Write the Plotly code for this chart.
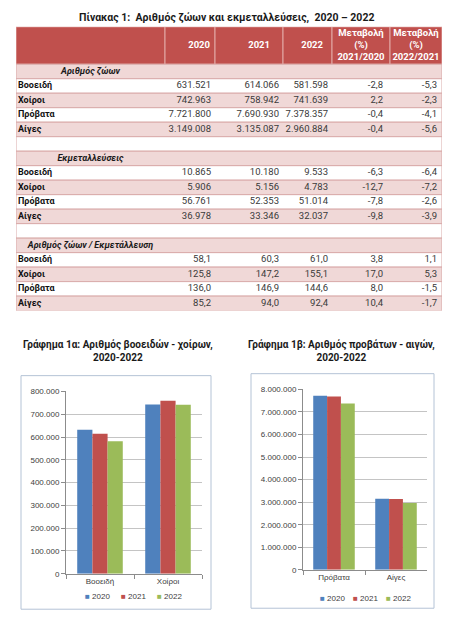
import plotly.graph_objects as go

# ---------------- data ----------------
animals = ["Βοοειδή", "Χοίροι", "Πρόβατα", "Αίγες"]
years = ["2020", "2021", "2022"]
sections = ["Αριθμός ζώων", "Εκμεταλλεύσεις", "Αριθμός ζώων / Εκμετάλλευση"]
change_headers = ["Μεταβολή<br>(%)<br>2021/2020", "Μεταβολή<br>(%)<br>2022/2021"]

heads_2020 = [631521, 742963, 7721800, 3149008]
heads_2021 = [614066, 758942, 7690930, 3135087]
heads_2022 = [581598, 741639, 7378357, 2960884]
heads_chg_21_20 = [-2.8, 2.2, -0.4, -0.4]
heads_chg_22_21 = [-5.3, -2.3, -4.1, -5.6]

farms_2020 = [10865, 5906, 56761, 36978]
farms_2021 = [10180, 5156, 52353, 33346]
farms_2022 = [9533, 4783, 51014, 32037]
farms_chg_21_20 = [-6.3, -12.7, -7.8, -9.8]
farms_chg_22_21 = [-6.4, -7.2, -2.6, -3.9]

perfarm_2020 = [58.1, 125.8, 136.0, 85.2]
perfarm_2021 = [60.3, 147.2, 146.9, 94.0]
perfarm_2022 = [61.0, 155.1, 144.6, 92.4]
perfarm_chg_21_20 = [3.8, 17.0, 8.0, 10.4]
perfarm_chg_22_21 = [1.1, 5.3, -1.5, -1.7]

table_title = "Πίνακας 1:  Αριθμός ζώων και εκμεταλλεύσεις,  2020 – 2022"
chart1_title = "Γράφημα 1α: Αριθμός βοοειδών - χοίρων,<br>2020-2022"
chart2_title = "Γράφημα 1β: Αριθμός προβάτων - αιγών,<br>2020-2022"
chart1_cats = animals[:2]
chart2_cats = animals[2:]

# ---------------- styles ----------------
PAGE_W, PAGE_H = 452, 637
OFF = 8  # default body margin of the html page
W, H = PAGE_W - 2 * OFF, PAGE_H - 2 * OFF
FONT_T = "Roboto, 'Open Sans', sans-serif"
FONT_C = "'Liberation Sans', Arial, sans-serif"
RED_H = "#C0504D"
PINK = "#F0D8D7"
ROW_LINE = "#D9AAA9"
BAR_COLORS = ["#4F81BD", "#C0504D", "#9BBB59"]


def px_x(px):
    return (px - OFF) / W


def px_y(px):
    return 1 - (px - OFF) / H


def fmt_int(v):
    return f"{v:,}".replace(",", ".")


def fmt_dec(v):
    return f"{v:.1f}".replace(".", ",")


# ---------------- table rows ----------------
blocks = [
    (sections[0], [heads_2020, heads_2021, heads_2022], [heads_chg_21_20, heads_chg_22_21], fmt_int),
    (sections[1], [farms_2020, farms_2021, farms_2022], [farms_chg_21_20, farms_chg_22_21], fmt_int),
    (sections[2], [perfarm_2020, perfarm_2021, perfarm_2022], [perfarm_chg_21_20, perfarm_chg_22_21], fmt_dec),
]
rows = []
for bi, (title, yr_vals, chg_vals, f) in enumerate(blocks):
    rows.append(("section", title, None, 0))
    for i, a in enumerate(animals):
        cells = [f(v[i]) for v in yr_vals] + [fmt_dec(c[i]) for c in chg_vals]
        rows.append(("data", a, cells, i))
    if bi < len(blocks) - 1:
        rows.append(("blank", "", None, 0))

# table geometry (table units = px inside the table box)
T_LEFT, T_RIGHT, T_TOP, T_BOTTOM = 16, 442, 23, 311
TW = T_RIGHT - T_LEFT
HEADER_H = 38
ROW_H = (T_BOTTOM - T_TOP - HEADER_H) / len(rows)
col_edges = [0, 149, 199, 267, 316, 374, 426]
value_right = [195, 263, 312, 367, 421]
header_year_right = [194, 254, 307]
label_left = 2

fig = go.Figure()

# cell backgrounds as horizontal bars
bx, bbase, by, bw, bc, blc = [], [], [], [], [], []
for c in range(6):
    bbase.append(col_edges[c])
    bx.append(col_edges[c + 1] - col_edges[c])
    by.append(HEADER_H / 2)
    bw.append(HEADER_H)
    bc.append(RED_H)
    blc.append("#E2A9A7")
for k, (kind, label, cells, i) in enumerate(rows):
    bbase.append(0)
    bx.append(TW)
    by.append(HEADER_H + (k + 0.5) * ROW_H)
    bw.append(ROW_H)
    if kind == "section" or (kind == "data" and i % 2 == 1):
        bc.append(PINK)
    else:
        bc.append("#FFFFFF")
    blc.append(ROW_LINE)
fig.add_trace(go.Bar(
    x=bx, base=bbase, y=by, width=bw, orientation="h",
    marker=dict(color=bc, line=dict(color=blc, width=1)),
    xaxis="x3", yaxis="y3", showlegend=False, hoverinfo="skip"))

# header texts
hx, hy, ht, hp = [], [], [], []
for c, yr in enumerate(years):
    hx.append(header_year_right[c])
    hy.append(HEADER_H / 2)
    ht.append("<b>" + yr + "</b>")
    hp.append("middle left")
for c, txt in enumerate(change_headers):
    hx.append((col_edges[c + 4] + col_edges[c + 5]) / 2)
    hy.append(HEADER_H / 2)
    ht.append("<b>" + txt + "</b>")
    hp.append("middle center")
fig.add_trace(go.Scatter(
    x=hx, y=hy, text=ht, mode="text", textposition=hp,
    textfont=dict(family=FONT_T, size=9.5, color="#FFFFFF"),
    xaxis="x3", yaxis="y3", showlegend=False, hoverinfo="skip", cliponaxis=False))

# body texts
sx, sy, st = [], [], []
lx, ly, lt = [], [], []
vals_cols = [[] for _ in range(5)]
vy = []
for k, (kind, label, cells, i) in enumerate(rows):
    yc = HEADER_H + (k + 0.5) * ROW_H
    if kind == "section":
        sx.append(col_edges[1] / 2)
        sy.append(yc)
        st.append("<b><i>" + label + "</i></b>")
    elif kind == "data":
        lx.append(label_left)
        ly.append(yc)
        lt.append("<b>" + label + "</b>")
        vy.append(yc)
        for c in range(5):
            vals_cols[c].append(cells[c])
fig.add_trace(go.Scatter(
    x=sx, y=sy, text=st, mode="text", textposition="middle center",
    textfont=dict(family=FONT_T, size=9, color="#1A1A1A"),
    xaxis="x3", yaxis="y3", showlegend=False, hoverinfo="skip", cliponaxis=False))
fig.add_trace(go.Scatter(
    x=lx, y=ly, text=lt, mode="text", textposition="middle right",
    textfont=dict(family=FONT_T, size=9, color="#111111"),
    xaxis="x3", yaxis="y3", showlegend=False, hoverinfo="skip", cliponaxis=False))
for c in range(5):
    fig.add_trace(go.Scatter(
        x=[value_right[c]] * len(vy), y=vy, text=vals_cols[c],
        mode="text", textposition="middle left",
        textfont=dict(family=FONT_T, size=9.5, color="#3A3A3A"),
        xaxis="x3", yaxis="y3", showlegend=False, hoverinfo="skip", cliponaxis=False))

# ---------------- bar charts ----------------
series = [heads_2020, heads_2021, heads_2022]
for yi, yr in enumerate(years):
    fig.add_trace(go.Bar(
        x=chart1_cats, y=series[yi][:2], name=yr,
        marker=dict(color=BAR_COLORS[yi], line=dict(width=0)),
        xaxis="x", yaxis="y", showlegend=False))
for yi, yr in enumerate(years):
    fig.add_trace(go.Bar(
        x=chart2_cats, y=series[yi][2:], name=yr,
        marker=dict(color=BAR_COLORS[yi], line=dict(width=0)),
        xaxis="x2", yaxis="y2", showlegend=False))

axis_common = dict(showline=True, linecolor="#8C8C8C", linewidth=1,
                   ticks="outside", ticklen=4, tickcolor="#8C8C8C",
                   tickfont=dict(family=FONT_C, size=8, color="#404040"),
                   fixedrange=True)

# legend entries (one per year, per chart)
legend_anns = []
for start, step, yy in [(83, 36, 601), (318, 33, 603)]:
    for yi, yr in enumerate(years):
        legend_anns.append(dict(
            text="<span style='color:%s'>■</span> %s" % (BAR_COLORS[yi], yr),
            x=px_x(start + yi * step), y=px_y(yy), xref="paper", yref="paper",
            showarrow=False, xanchor="left", yanchor="middle",
            font=dict(family=FONT_C, size=8, color="#404040")))

fig.update_layout(
    width=W, height=H, margin=dict(l=0, r=0, t=0, b=0),
    paper_bgcolor="white", plot_bgcolor="white",
    separators=",.",
    barmode="group", bargap=0.33, bargroupgap=0,
    showlegend=False,
    xaxis=dict(domain=[px_x(66), px_x(202)], anchor="y", tickson="boundaries",
               showgrid=False, **axis_common),
    yaxis=dict(domain=[px_y(578), px_y(393)], anchor="x", range=[0, 800000], dtick=100000,
               tickformat=",d", showgrid=True, gridcolor="#C4C4C4", gridwidth=1,
               zeroline=False, **axis_common),
    xaxis2=dict(domain=[px_x(303), px_x(427)], anchor="y2", tickson="boundaries",
                showgrid=False, **axis_common),
    yaxis2=dict(domain=[px_y(574), px_y(391)], anchor="x2", range=[0, 8000000], dtick=1000000,
                tickformat=",d", showgrid=True, gridcolor="#C4C4C4", gridwidth=1,
                zeroline=False, **axis_common),
    xaxis3=dict(domain=[px_x(T_LEFT), px_x(T_RIGHT)], anchor="y3", range=[0, TW],
                visible=False, fixedrange=True),
    yaxis3=dict(domain=[px_y(T_BOTTOM), px_y(T_TOP)], anchor="x3",
                range=[T_BOTTOM - T_TOP, 0], visible=False, fixedrange=True),
    shapes=[
        dict(type="rect", xref="paper", yref="paper", x0=px_x(21), x1=px_x(211),
             y0=px_y(614), y1=px_y(377), line=dict(color="#B4C3D6", width=1), layer="below"),
        dict(type="rect", xref="paper", yref="paper", x0=px_x(251), x1=px_x(434),
             y0=px_y(613), y1=px_y(375), line=dict(color="#B4C3D6", width=1), layer="below"),
    ],
    annotations=[
        dict(text="<b>" + table_title + "</b>", x=px_x(226), y=px_y(14), xref="paper", yref="paper",
             showarrow=False, xanchor="center", yanchor="middle",
             font=dict(family=FONT_T, size=10.5, color="#1A1A1A")),
        dict(text="<b>" + chart1_title + "</b>", x=px_x(118), y=px_y(352), xref="paper", yref="paper",
             showarrow=False, xanchor="center", yanchor="middle",
             font=dict(family=FONT_T, size=10, color="#1A1A1A")),
        dict(text="<b>" + chart2_title + "</b>", x=px_x(341), y=px_y(352), xref="paper", yref="paper",
             showarrow=False, xanchor="center", yanchor="middle",
             font=dict(family=FONT_T, size=10, color="#1A1A1A")),
    ] + legend_anns,
)

fig.write_html("out.html")
